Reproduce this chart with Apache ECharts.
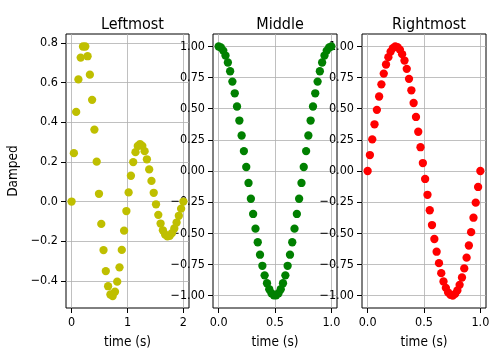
<!DOCTYPE html>
<html><head><meta charset="utf-8">
<script src="https://cdn.jsdelivr.net/npm/echarts@6/dist/echarts.min.js"></script>
<style>html,body{margin:0;padding:0;background:#fff}#c{width:500px;height:363px}</style>
</head><body><div id="c"></div>
<script>
// ---- data ----
const titles = ["Leftmost", "Middle", "Rightmost"];
const xLabel = "time (s)";
const yLabel = "Damped";

const leftX = [0,0.041,0.082,0.122,0.163,0.204,0.245,0.286,0.327,0.367,0.408,0.449,0.490,0.531,0.571,0.612,0.653,0.694,0.735,0.776,0.816,0.857,0.898,0.939,0.980,1.020,1.061,1.102,1.143,1.184,1.224,1.265,1.306,1.347,1.388,1.429,1.469,1.510,1.551,1.592,1.633,1.673,1.714,1.755,1.796,1.837,1.878,1.918,1.959,2.0];
const leftY = [0,0.244,0.452,0.616,0.726,0.782,0.782,0.733,0.640,0.513,0.363,0.201,0.039,-0.113,-0.245,-0.351,-0.427,-0.469,-0.477,-0.455,-0.404,-0.332,-0.244,-0.147,-0.048,0.046,0.130,0.199,0.249,0.280,0.290,0.281,0.254,0.213,0.162,0.104,0.044,-0.014,-0.067,-0.111,-0.145,-0.166,-0.176,-0.173,-0.159,-0.136,-0.106,-0.072,-0.036,0];

const unitX = [0,0.020,0.041,0.061,0.082,0.102,0.122,0.143,0.163,0.184,0.204,0.224,0.245,0.265,0.286,0.306,0.327,0.347,0.367,0.388,0.408,0.429,0.449,0.469,0.490,0.510,0.531,0.551,0.571,0.592,0.612,0.633,0.653,0.673,0.694,0.714,0.735,0.755,0.776,0.796,0.816,0.837,0.857,0.878,0.898,0.918,0.939,0.959,0.980,1.0];
const middleY = [1,0.992,0.967,0.927,0.871,0.801,0.718,0.624,0.518,0.405,0.285,0.160,0.032,-0.096,-0.223,-0.345,-0.463,-0.572,-0.672,-0.761,-0.838,-0.901,-0.949,-0.982,-0.998,-0.998,-0.982,-0.949,-0.901,-0.838,-0.761,-0.672,-0.572,-0.463,-0.345,-0.223,-0.096,0.032,0.160,0.285,0.405,0.518,0.624,0.718,0.801,0.871,0.927,0.967,0.992,1];
const rightY = [0,0.128,0.254,0.375,0.491,0.598,0.696,0.782,0.855,0.914,0.959,0.987,1.000,0.995,0.975,0.938,0.887,0.820,0.740,0.648,0.546,0.434,0.315,0.191,0.064,-0.064,-0.191,-0.315,-0.434,-0.546,-0.648,-0.740,-0.820,-0.887,-0.938,-0.975,-0.995,-1.000,-0.987,-0.959,-0.914,-0.855,-0.782,-0.696,-0.598,-0.491,-0.375,-0.254,-0.128,0];

const leftXTicks = [0, 1, 2];
const leftYTicks = [-0.4, -0.2, 0.0, 0.2, 0.4, 0.6, 0.8];
const unitXTicks = [0.0, 0.5, 1.0];
const unitYTicks = [-1.0, -0.75, -0.5, -0.25, 0.0, 0.25, 0.5, 0.75, 1.0];

const colors = ["#bfbf00", "#008000", "#ff0000"];

// ---- chart ----
const font = "'DejaVu Sans Condensed', 'DejaVu Sans', sans-serif";
const minus = s => s.replace('-', '\u2212');
const grids = [
  {left: 66, top: 34, width: 123, height: 274},
  {left: 213, top: 34, width: 124, height: 274},
  {left: 362, top: 34, width: 124, height: 274}
];
const xRanges = [[-0.1, 2.1], [-0.05, 1.05], [-0.05, 1.05]];
const yRanges = [[-0.537, 0.845], [-1.1, 1.1], [-1.1, 1.1]];
const xTicks = [leftXTicks, unitXTicks, unitXTicks];
const yTicks = [leftYTicks, unitYTicks, unitYTicks];
const xFmt = [v => String(Math.round(v)), v => minus(v.toFixed(1)), v => minus(v.toFixed(1))];
const yFmt = [v => minus(v.toFixed(1)), v => minus(v.toFixed(2)), v => minus(v.toFixed(2))];
const xs = [leftX, unitX, unitX];
const ys = [leftY, middleY, rightY];

function axisCommon(ticks, fmt) {
  return {
    axisLine: {show: false, onZero: false},
    axisTick: {show: true, inside: false, length: 5, customValues: ticks, lineStyle: {color: '#000', width: 1}},
    axisLabel: {customValues: ticks, formatter: fmt, color: '#000', fontFamily: font, fontSize: 12.5, margin: 8},
    splitLine: {show: true, lineStyle: {color: '#b0b0b0', width: 0.8}}
  };
}

const option = {
  animation: false,
  backgroundColor: '#fff',
  title: titles.map((t, i) => ({
    text: t, left: grids[i].left + grids[i].width / 2, top: 12, textAlign: 'center',
    textStyle: {fontFamily: font, fontSize: 16, fontWeight: 'normal', color: '#000'}
  })),
  grid: grids.map(g => Object.assign({show: true, borderColor: '#000', borderWidth: 1, containLabel: false}, g)),
  xAxis: grids.map((g, i) => Object.assign({
    type: 'value', gridIndex: i, min: xRanges[i][0], max: xRanges[i][1],
    name: xLabel, nameLocation: 'middle', nameGap: 27,
    nameTextStyle: {fontFamily: font, fontSize: 13.5, color: '#000'}
  }, axisCommon(xTicks[i], xFmt[i]))),
  yAxis: grids.map((g, i) => Object.assign({
    type: 'value', gridIndex: i, min: yRanges[i][0], max: yRanges[i][1],
    name: i === 0 ? yLabel : '', nameLocation: 'middle', nameGap: 46,
    nameTextStyle: {fontFamily: font, fontSize: 13.5, color: '#000'}
  }, axisCommon(yTicks[i], yFmt[i]))),
  series: grids.map((g, i) => ({
    type: 'scatter', xAxisIndex: i, yAxisIndex: i, symbol: 'circle', symbolSize: 8.3,
    itemStyle: {color: colors[i], opacity: 1},
    data: xs[i].map((x, k) => [x, ys[i][k]]),
    z: 3
  }))
};
const chart = echarts.init(document.getElementById('c'), null, {renderer: 'canvas'});
chart.setOption(option);
</script>
</body></html>
